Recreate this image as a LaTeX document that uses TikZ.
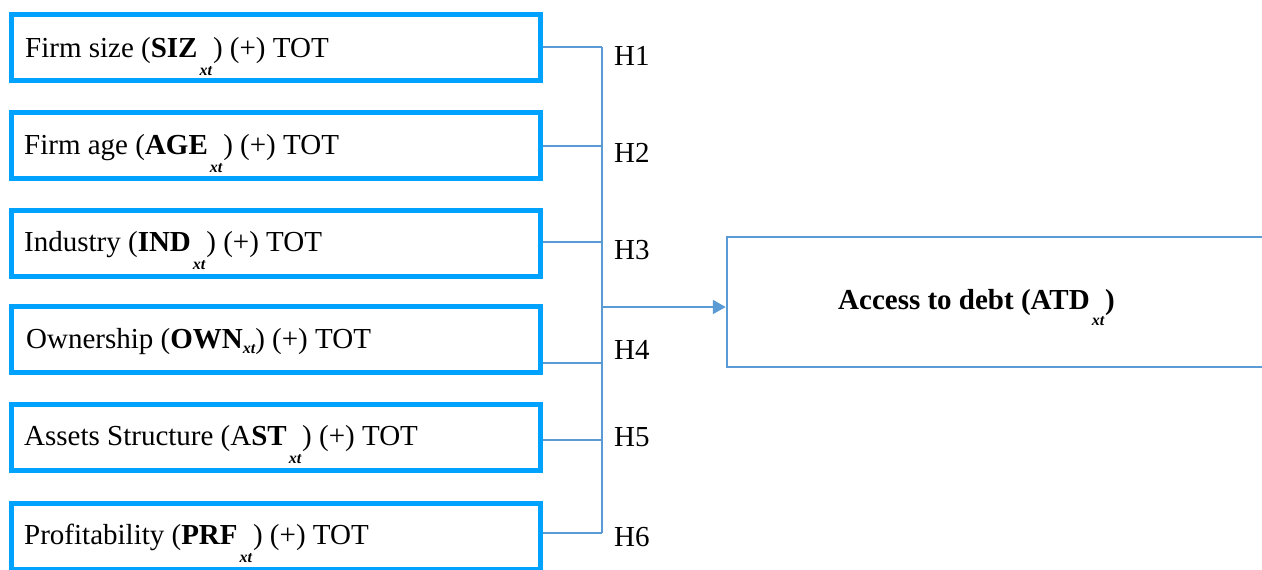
\documentclass[tikz,border=0pt]{standalone}
\usepackage{fontspec}
\setmainfont{Liberation Serif}
\usetikzlibrary{arrows.meta}

\definecolor{boxblue}{RGB}{0,162,255}
\definecolor{linkblue}{RGB}{91,155,213}

% lowered bold-italic index as printed in the factor labels
\newcommand\lowidx[2][18pt]{\hspace{2pt}\raisebox{-#1}{\fontsize{16}{16}\selectfont\bfseries\itshape #2}\hspace{1pt}}

\begin{document}
\begin{tikzpicture}[x=1pt,y=-1pt,
  factor/.style={draw=boxblue, line width=5pt, minimum width=529pt, minimum height=66pt, inner sep=0pt},
  label/.style={anchor=base west, inner sep=0pt, font=\fontsize{29}{34}\selectfont},
  hyp/.style={anchor=base west, inner sep=0pt, font=\fontsize{29}{34}\selectfont},
  link/.style={draw=linkblue, line width=1.3pt},
  outcome/.style={draw=linkblue, line width=2.5pt, minimum width=600pt, minimum height=130pt, inner sep=0pt}]
\useasboundingbox (0,0) rectangle (1262,570);
\clip (0,0) rectangle (1262,570);

% factor boxes
\node[factor] (b1) at (276,47) {};
\node[factor] (b2) at (276,145.5) {};
\node[factor] (b3) at (276,243) {};
\node[factor] (b4) at (276,339) {};
\node[factor] (b5) at (276,437.5) {};
\node[factor] (b6) at (276,536.5) {};

% factor texts
\node[label] (t1) at (25,57) {Firm size (\textbf{SIZ}\lowidx{xt}) (+) TOT};
\node[label] (t2) at (24,154) {Firm age (\textbf{AGE}\lowidx{xt}) (+) TOT};
\node[label] (t3) at (24,251) {Industry (\textbf{IND}\lowidx{xt}) (+) TOT};
\node[label] (t4) at (26,348) {Ownership (\textbf{OWN}\raisebox{-5pt}{\fontsize{16}{16}\selectfont\bfseries\itshape xt}) (+) TOT};
\node[label] (t5) at (24,445) {Assets Structure (A\textbf{ST}\lowidx{xt}) (+) TOT};
\node[label] (t6) at (24,544) {Profitability (\textbf{PRF}\lowidx{xt}) (+) TOT};

% outcome box
\node[outcome] (atd) at (1027,302) {};
\node[anchor=base west, inner sep=0pt, font=\fontsize{29}{34}\selectfont\bfseries] (atdt) at (838,309)
  {Access to debt (ATD\lowidx[16pt]{xt})};

% collector line and junctions
\coordinate (j1) at (602,47);
\coordinate (j2) at (602,146);
\coordinate (j3) at (602,242);
\coordinate (j4) at (602,363);
\coordinate (j5) at (602,440);
\coordinate (j6) at (602,533);
\coordinate (jm) at (602,307);

\draw[link] (b1.east |- j1) -- (j1);
\draw[link] (b2.east |- j2) -- (j2);
\draw[link] (b3.east |- j3) -- (j3);
\draw[link] (b4.east |- j4) -- (j4);
\draw[link] (b5.east |- j5) -- (j5);
\draw[link] (b6.east |- j6) -- (j6);
\draw[link] (j1) -- (j6);
\draw[draw=linkblue, line width=2.2pt, -{Triangle[length=13pt,width=14pt]}] (jm) -- (jm -| atd.west);

% hypothesis labels
\node[hyp] (h1) at (614,65) {H1};
\node[hyp] (h2) at (614,162) {H2};
\node[hyp] (h3) at (614,259) {H3};
\node[hyp] (h4) at (614,359) {H4};
\node[hyp] (h5) at (614,446) {H5};
\node[hyp] (h6) at (614,546) {H6};
\end{tikzpicture}
\end{document}
